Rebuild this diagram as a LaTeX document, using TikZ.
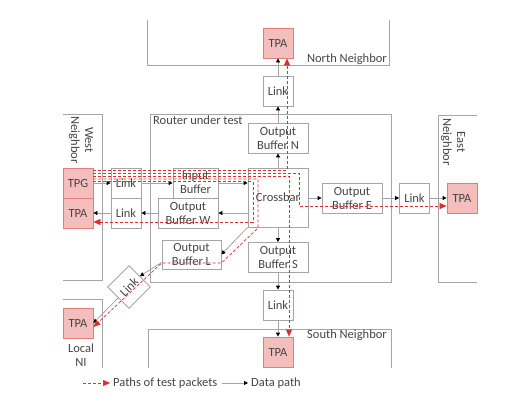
\documentclass[tikz,border=0pt]{standalone}
\usepackage{fontspec}
\setmainfont{Carlito}
\usepackage{xcolor}
\usepackage{tikz}
\usetikzlibrary{arrows.meta,positioning,calc}

\definecolor{boxgray}{RGB}{165,165,165}
\definecolor{txtgray}{RGB}{70,70,70}
\definecolor{tpfill}{RGB}{245,190,190}
\definecolor{tpline}{RGB}{225,125,125}
\definecolor{testred}{RGB}{225,45,45}

\begin{document}
\begin{tikzpicture}[
  x=1pt, y=-1pt,
  every node/.style={font=\fontsize{12.5}{14}\selectfont, text=txtgray},
  blk/.style={rectangle, draw=boxgray, line width=0.8pt, fill=white, inner sep=0pt, align=center, minimum height=30pt},
  tp/.style={blk, draw=tpline, fill=tpfill, minimum width=30pt},
  lnk/.style={blk, minimum width=30pt},
  buf/.style={blk, minimum width=60pt},
  frame/.style={draw=boxgray, line width=0.8pt},
  data/.style={boxgray, line width=0.8pt, -{Triangle[length=4pt, width=4pt, color=black]}},
  test/.style={testred, line width=0.7pt, dash pattern=on 3pt off 2pt, -{Triangle[length=7pt, width=6pt]}},
]
\useasboundingbox (0,0) rectangle (531,418);

% neighbour frames and router
\draw[frame] (147,20) -- (147,65) -- (389,65) -- (389,20);
\draw[frame] (63,114) -- (102,114) -- (102,280) -- (63,280);
\draw[frame] (477,115) -- (438,115) -- (438,282) -- (477,282);
\draw[frame] (63,299) -- (102,299) -- (102,368);
\draw[frame] (148,368) -- (148,329) -- (391,329) -- (391,368);
\draw[frame] (150,114) rectangle (391,282);

\node[anchor=base east, inner sep=0pt] (nnLbl) at (387,62) {North Neighbor};
\node[anchor=base east, inner sep=0pt] (snLbl) at (387,338) {South Neighbor};
\node[anchor=north west, inner sep=1pt] (rutLbl) at (152,115) {Router under test};
\node[rotate=-90, align=center, inner sep=0pt] (wnLbl) at (81,140) {West\\Neighbor};
\node[rotate=-90, align=center, inner sep=0pt] (enLbl) at (453,142) {East\\Neighbor};
\node[align=center, inner sep=0pt] (niLbl) at (81,355) {Local\\NI};

% blocks
\node[tp] (tpaN) at (278,43) {TPA};
\node[lnk] (linkN) at (278,91) {Link};
\node[buf] (obN) at (278,138) {Output\\Buffer N};
\node[buf, minimum height=59pt] (xbar) at (278,197.5) {Crossbar};
\node[buf] (obE) at (352,198) {Output\\Buffer E};
\node[lnk] (linkE) at (414.5,198) {Link};
\node[tp] (tpaE) at (462,198) {TPA};
\node[buf] (obS) at (278,257.5) {Output\\Buffer S};
\node[lnk] (linkS) at (278,305) {Link};
\node[tp] (tpaS) at (278,352) {TPA};
\node[tp] (tpg) at (78,183) {TPG};
\node[tp] (tpaW) at (78,213) {TPA};
\node[lnk] (linkWi) at (126,183) {Link};
\node[lnk] (linkWo) at (126,213) {Link};
\node[blk, minimum width=45pt] (ib) at (195.5,183) {Input\\Buffer};
\node[buf] (obW) at (188,213) {Output\\Buffer W};
\node[buf, minimum width=59pt, minimum height=29pt] (obL) at (191.5,254.5) {Output\\Buffer L};
\node[lnk, rotate=45] (linkL) at (129,287) {Link};
\node[tp] (tpaL) at (78,323) {TPA};

% data path
\draw[data] (tpg) -- (linkWi);
\draw[data] (linkWi) -- (ib);
\draw[data] (ib.east) -- (ib.east -| xbar.west);
\draw[data] (xbar.west |- obW.east) -- (obW.east);
\draw[data] (obW) -- (linkWo);
\draw[data] (linkWo) -- (tpaW);
\draw[data] (xbar) -- (obN);
\draw[data] (obN) -- (linkN);
\draw[data] (linkN) -- (tpaN);
\draw[data] (xbar.east |- obE.west) -- (obE.west);
\draw[data] (obE) -- (linkE);
\draw[data] (linkE) -- (tpaE);
\draw[data] (xbar) -- (obS);
\draw[data] (obS) -- (linkS);
\draw[data] (linkS) -- (tpaS);
\draw[data] (xbar.south west) -- (obL.east);
\draw[data] ([yshift=-8pt]obL.west) -- (linkL.east);
\draw[data] (linkL.west) -- (tpaL.east);

% test packet paths
\draw[test] ([yshift=13pt]tpg.east) -| ([xshift=9pt]tpaN.south);
\draw[test] ([yshift=10pt]tpg.east) -| (299,206) -- ([yshift=-8pt]tpaE.west);
\draw[test] ([yshift=7pt]tpg.east) -| ([xshift=11pt]tpaS.north);
\draw[test] ([yshift=4pt]tpg.east) -| (258,228) -- ([yshift=-8.5pt]obL.east) -- ([yshift=-8.5pt]obL.west) -- ([yshift=-4pt]tpaL.east);
\draw[test] ([yshift=1.5pt]tpg.east) -| (253,222) -- ([yshift=-9pt]tpaW.east);

% legend
\coordinate (lgTs) at (83,383);
\node[anchor=west, inner sep=0pt] (lgT) at (113,383) {Paths of test packets};
\coordinate (lgDs) at (222,383);
\node[anchor=west, inner sep=0pt] (lgD) at (251,383) {Data path};
\draw[test] (lgTs) -- ([xshift=-3pt]lgT.west);
\draw[data] (lgDs) -- ([xshift=-3pt]lgD.west);

\end{tikzpicture}
\end{document}
